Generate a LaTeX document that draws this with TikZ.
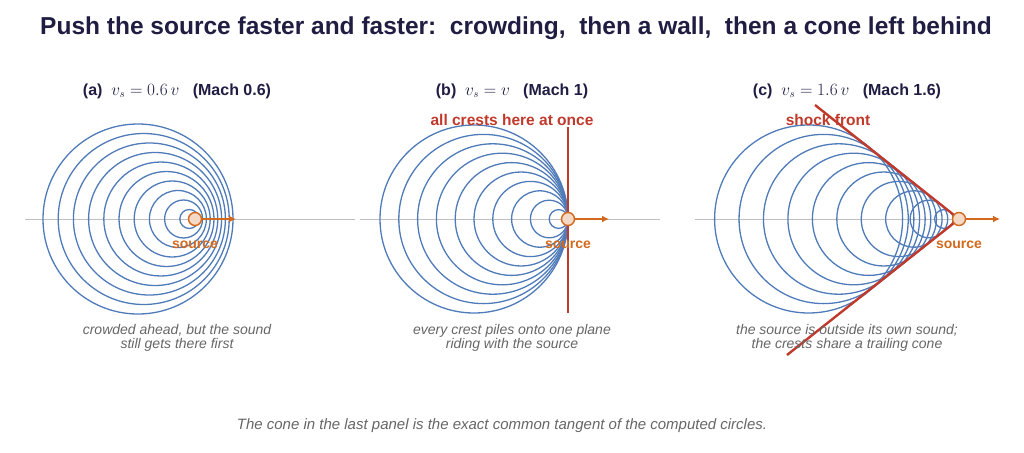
\documentclass[tikz,border=0pt]{standalone}
\usepackage{fontspec}
\setmainfont{Liberation Sans}
\usetikzlibrary{arrows.meta}
\definecolor{wblue}{HTML}{4F7BB9}
\definecolor{sorange}{HTML}{D2691E}
\definecolor{sred}{HTML}{C0392B}
\definecolor{navy}{HTML}{1F1D42}
\begin{document}
\begin{tikzpicture}[x=1pt,y=-1pt,
  wave/.style={draw=wblue,line width=1.3pt},
  axisl/.style={draw=black!25,line width=0.6pt},
  src/.style={circle,draw=sorange,fill=sorange!25,line width=1.4pt,minimum size=13pt,inner sep=0pt},
  mov/.style={draw=sorange,line width=2pt,-{Latex[length=7pt,width=7pt]}},
  srclab/.style={text=sorange,font=\bfseries\fontsize{14}{16}\selectfont},
  ptitle/.style={text=navy,font=\bfseries\fontsize{16}{18}\selectfont},
  captxt/.style={text=black!60,font=\itshape\fontsize{14}{15}\selectfont,align=center},
  shock/.style={draw=sred,line width=2.4pt},
  redlab/.style={text=sred,font=\bfseries\fontsize{15.5}{17}\selectfont}]
\useasboundingbox (0,0) rectangle (1024,452);
\node[text=navy,font=\bfseries\fontsize{24.5}{26}\selectfont] (title) at (516,28) {Push the source faster and faster:\ \ crowding,\ \ then a wall,\ \ then a cone left behind};
% panel a
\node[ptitle] (ta) at (177,91) {(a)\ \ $v_s=0.6\,v$\ \ \ (Mach 0.6)};
\draw[axisl] (25,219) -- (355,219);
\foreach \k in {1,...,10}{\draw[wave] ({195-0.6*9.5*\k},219) circle ({9.5*\k});}
\node[src] (sa) at (195,219) {};
\coordinate (ea) at (236,219);
\draw[mov] (sa) -- (ea);
\node[srclab] (la) at (195,245) {source};
\node[captxt] (ca) at (177,338) {crowded ahead, but the sound\\[-1pt]still gets there first};
% panel b
\node[ptitle] (tb) at (512,91) {(b)\ \ $v_s=v$\ \ \ (Mach 1)};
\draw[axisl] (360,219) -- (660,219);
\foreach \k in {1,...,10}{\draw[wave] ({568-9.4*\k},219) circle ({9.4*\k});}
\coordinate (wt) at (568,127); \coordinate (wb) at (568,313);
\draw[shock] (wt) -- (wb);
\node[src] (sb) at (568,219) {};
\coordinate (eb) at (609,219);
\draw[mov] (sb) -- (eb);
\node[srclab] (lb) at (568,245) {source};
\node[redlab] (rb) at (512,120) {all crests here at once};
\node[captxt] (cb) at (512,338) {every crest piles onto one plane\\[-1pt]riding with the source};
% panel c
\node[ptitle] (tc) at (847,91) {(c)\ \ $v_s=1.6\,v$\ \ \ (Mach 1.6)};
\draw[axisl] (695,219) -- (995,219);
\foreach \k in {1,...,10}{\draw[wave] ({959-1.6*9.4*\k},219) circle ({9.4*\k});}
\coordinate (ct) at (815,105); \coordinate (cb2) at (787,355);
\coordinate (sc0) at (959,219);
\draw[shock] (ct) -- (sc0) -- (cb2);
\node[src] (sc) at (959,219) {};
\coordinate (ec) at (1000,219);
\draw[mov] (sc) -- (ec);
\node[srclab] (lc) at (959,245) {source};
\node[redlab] (rc) at (828,120) {shock front};
\node[captxt] (cc) at (847,338) {the source is outside its own sound;\\[-1pt]the crests share a trailing cone};
\node[captxt,font=\itshape\fontsize{15}{17}\selectfont] (foot) at (502,426) {The cone in the last panel is the exact common tangent of the computed circles.};
\end{tikzpicture}
\end{document}
